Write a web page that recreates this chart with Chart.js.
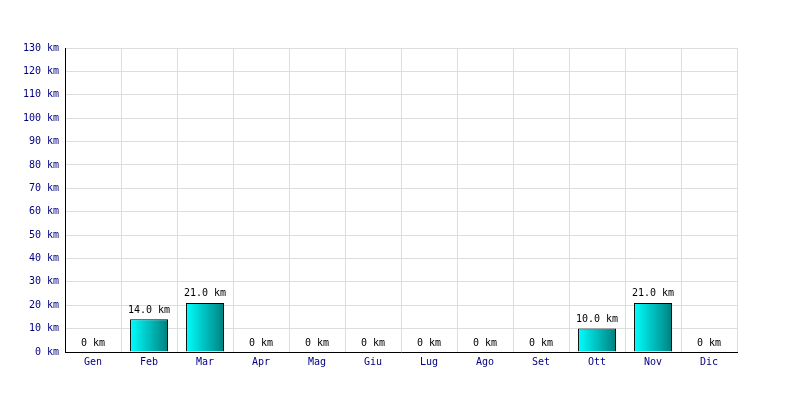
<!DOCTYPE html>
<html>
<head>
<meta charset="utf-8">
<script src="https://cdn.jsdelivr.net/npm/chart.js@4"></script>
<style>
  html, body { margin: 0; padding: 0; background: #fff; }
  #wrap { width: 800px; height: 400px; }
</style>
</head>
<body>
<div id="wrap"><canvas id="chart" width="800" height="400"></canvas></div>
<script>
const months = ["Gen", "Feb", "Mar", "Apr", "Mag", "Giu", "Lug", "Ago", "Set", "Ott", "Nov", "Dic"]
const km = [0, 14, 21, 0, 0, 0, 0, 0, 0, 10, 21, 0]
const yMax = 130
const yStep = 10

const font = { family: "'DejaVu Sans Mono', monospace", size: 10 }
const barPct = 0.68

// horizontal gradient on every bar, cyan -> teal
function barFill(ctx) {
  const xs = ctx.chart.scales.x
  if (!xs || ctx.dataIndex === undefined) return '#00c0c0'
  const cx = xs.getPixelForValue(ctx.dataIndex)
  const half = xs.width / months.length * barPct / 2
  if (!isFinite(cx) || !isFinite(half) || half <= 0) return '#00c0c0'
  const g = ctx.chart.ctx.createLinearGradient(cx - half, 0, cx + half, 0)
  g.addColorStop(0, '#00ffff')
  g.addColorStop(1, '#008080')
  return g
}

const valueLabels = {
  id: 'valueLabels',
  afterDatasetsDraw(chart) {
    const c = chart.ctx
    const meta = chart.getDatasetMeta(0)
    c.save()
    c.font = "10px 'DejaVu Sans Mono', monospace"
    c.fillStyle = '#000'
    c.textAlign = 'center'
    c.textBaseline = 'bottom'
    meta.data.forEach((bar, i) => {
      const v = km[i]
      const txt = v === 0 ? '0 km' : v.toFixed(1) + ' km'
      c.fillText(txt, bar.x, bar.y - 4)
    })
    c.restore()
  }
}

new Chart(document.getElementById('chart'), {
  type: 'bar',
  data: {
    labels: months,
    datasets: [{
      data: km,
      backgroundColor: barFill,
      borderColor: '#000',
      borderWidth: 1,
      borderSkipped: 'bottom',
      categoryPercentage: 1,
      barPercentage: barPct
    }]
  },
  options: {
    responsive: false,
    animation: false,
    layout: { padding: { top: 48, right: 63, left: 0, bottom: 0 } },
    plugins: {
      legend: { display: false },
      tooltip: { enabled: false }
    },
    scales: {
      x: {
        grid: { color: '#dddddd', drawTicks: false, offset: true },
        border: { color: '#000', width: 1 },
        ticks: { color: '#000080', font: font, padding: 4 },
        afterFit(s) { s.height = 48 }
      },
      y: {
        min: 0,
        max: yMax,
        grid: { color: '#dddddd', drawTicks: false },
        border: { color: '#000', width: 1 },
        ticks: {
          stepSize: yStep,
          color: '#000080',
          font: font,
          padding: 6,
          callback: v => v + ' km'
        },
        afterFit(s) { s.width = 65 }
      }
    }
  },
  plugins: [valueLabels]
})
</script>
</body>
</html>
